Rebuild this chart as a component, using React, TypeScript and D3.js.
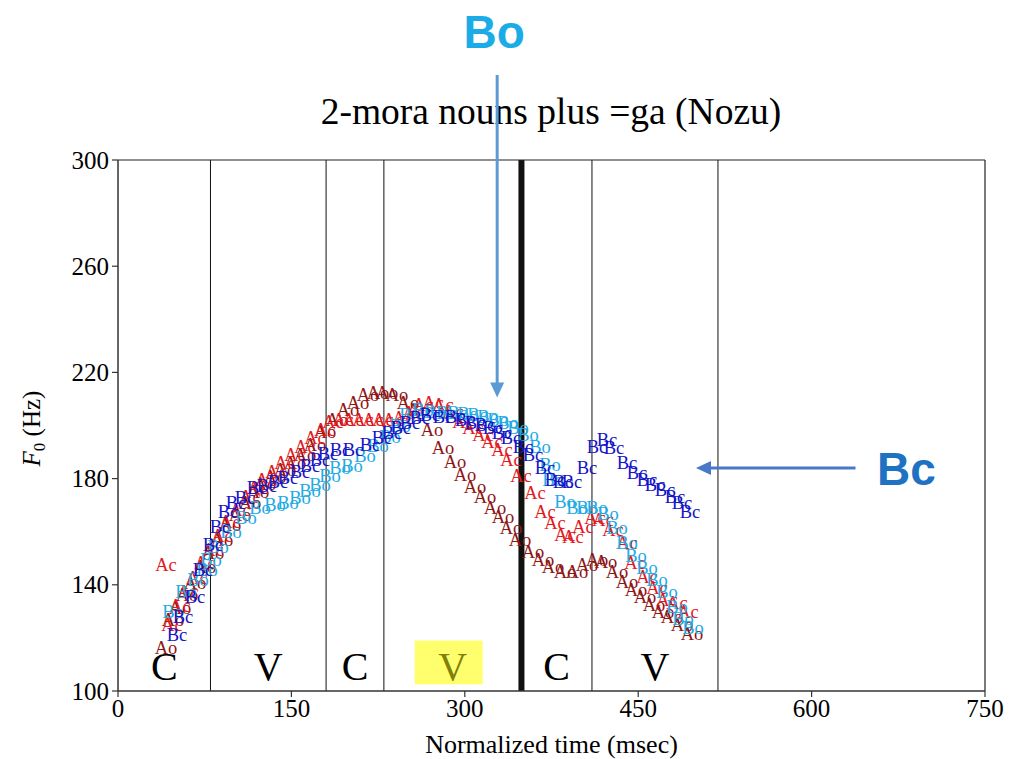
import React from "react";
import * as d3 from "d3";

// ---- data (time in msec, F0 in Hz) ----
const AO: [number, number][] = [
  [41.5, 116.1], [47.6, 126.7], [53.6, 131.3], [59.7, 136.2], [66.6, 140.7], [75.3, 146.7],
  [82.2, 152.0], [90.0, 156.9], [96.9, 162.5], [105.5, 166.3], [114.2, 170.8], [121.1, 175.0],
  [127.2, 178.0], [135.8, 180.6], [144.5, 183.2], [153.1, 185.9], [161.8, 188.9], [170.4, 192.7],
  [179.1, 197.6], [189.4, 202.1], [199.0, 205.8], [207.6, 208.5], [216.3, 211.5], [224.9, 212.2],
  [232.7, 212.2], [241.3, 211.5], [250.9, 208.5], [259.5, 205.8], [271.6, 198.3], [281.1, 191.5],
  [291.5, 186.3], [300.2, 181.4], [308.8, 176.8], [317.5, 173.1], [326.1, 168.9], [333.0, 165.5],
  [340.0, 161.4], [347.8, 156.9], [359.0, 152.4], [367.6, 149.3], [376.3, 146.7], [386.7, 144.8],
  [397.1, 144.8], [405.7, 147.5], [414.4, 149.3], [422.1, 148.6], [431.7, 144.8], [440.3, 141.1],
  [448.1, 138.0], [455.9, 135.4], [463.7, 132.4], [471.5, 129.8], [479.2, 127.9], [487.9, 124.9],
  [496.5, 121.5],
];

const AC: [number, number][] = [
  [41.5, 147.5], [46.7, 124.9], [53.6, 132.0], [60.6, 137.3], [68.3, 142.6], [75.3, 148.2],
  [82.2, 153.1], [90.0, 158.4], [96.9, 163.7], [105.5, 168.2], [114.2, 173.1], [121.1, 176.5],
  [128.0, 179.5], [136.7, 182.5], [144.5, 185.9], [153.1, 188.9], [161.8, 191.9], [170.4, 195.3],
  [179.1, 198.3], [186.0, 201.3], [194.6, 202.1], [203.3, 202.1], [211.9, 202.1], [220.6, 202.1],
  [229.2, 202.1], [237.9, 202.1], [246.5, 202.8], [255.2, 204.7], [263.8, 207.7], [272.5, 208.5],
  [281.1, 207.7], [289.8, 205.1], [298.4, 201.3], [307.1, 199.1], [315.7, 196.4], [323.5, 193.8],
  [332.2, 190.8], [340.0, 187.0], [348.6, 181.0], [360.7, 174.6], [369.4, 167.4], [378.0, 163.3],
  [386.7, 158.8], [393.6, 158.0], [402.2, 161.8], [412.6, 165.2], [419.6, 164.4], [428.2, 160.6],
  [440.3, 155.7], [447.2, 148.2], [457.6, 142.9], [466.3, 138.8], [474.9, 134.3], [483.6, 133.1],
  [493.1, 129.8],
];

const BO: [number, number][] = [
  [47.6, 129.8], [58.8, 137.3], [69.2, 141.8], [77.0, 145.6], [80.4, 149.3], [86.5, 154.2],
  [97.8, 159.9], [110.7, 165.2], [122.8, 168.9], [135.8, 170.1], [147.1, 170.8], [157.4, 172.7],
  [166.1, 175.3], [174.7, 177.6], [183.4, 181.0], [192.0, 184.0], [202.4, 184.7], [213.7, 188.5],
  [224.9, 192.3], [235.3, 195.7], [243.9, 199.8], [252.6, 204.0], [263.8, 205.8], [274.2, 205.1],
  [284.6, 204.7], [294.1, 204.7], [302.8, 204.3], [311.4, 204.0], [320.1, 203.2], [328.7, 202.1],
  [337.4, 200.9], [346.0, 199.1], [354.7, 196.4], [365.0, 191.9], [373.7, 185.1], [376.3, 179.5],
  [386.7, 171.2], [397.1, 168.9], [405.7, 168.9], [414.4, 168.9], [423.9, 166.7], [431.7, 161.4],
  [440.3, 155.7], [448.1, 150.8], [457.6, 146.3], [466.3, 141.8], [474.9, 137.3], [483.6, 131.6],
  [488.8, 127.1], [497.4, 123.7],
];

const BC: [number, number][] = [
  [51.0, 121.1], [56.2, 127.9], [66.6, 135.4], [73.5, 145.6], [82.2, 155.0], [88.2, 161.8],
  [95.2, 167.4], [102.1, 170.8], [109.9, 172.7], [120.2, 176.5], [128.9, 177.2], [138.4, 178.7],
  [147.1, 180.2], [157.4, 182.5], [166.1, 184.7], [174.7, 187.0], [181.7, 189.3], [192.0, 190.8],
  [203.3, 190.8], [218.0, 192.7], [228.4, 195.3], [237.0, 197.2], [244.8, 199.1], [252.6, 200.9],
  [261.2, 202.8], [269.9, 204.0], [281.1, 203.2], [291.5, 203.2], [300.2, 202.1], [308.8, 200.9],
  [317.5, 200.2], [324.4, 199.1], [332.2, 197.2], [340.0, 195.3], [350.3, 191.9], [359.0, 188.9],
  [369.4, 184.0], [378.0, 179.5], [385.0, 178.7], [392.7, 178.7], [405.7, 184.0], [414.4, 191.9],
  [423.0, 194.5], [429.1, 191.5], [440.3, 185.9], [449.0, 182.1], [457.6, 179.5], [464.5, 177.6],
  [473.2, 175.7], [481.8, 173.1], [487.9, 170.8], [494.8, 167.4],
];

const SERIES = [
  { name: "Ao", color: "#8E1616", data: AO },
  { name: "Ac", color: "#E3191C", data: AC },
  { name: "Bo", color: "#22AAE4", data: BO },
  { name: "Bc", color: "#1414C8", data: BC },
];

const X_TICKS = [0, 150, 300, 450, 600, 750];
const Y_TICKS = [100, 140, 180, 220, 260, 300];
const BOUNDARIES = [0, 80, 180, 230, 349, 410, 519];
const THICK_BOUNDARY = 349;
const SEGMENTS = ["C", "V", "C", "V", "C", "V"];
const HIGHLIGHT_SEGMENT = 3;
const TITLE = "2-mora nouns plus =ga (Nozu)";

const W = 1010;
const H = 759;
const M = { left: 118, right: 25, top: 160, bottom: 68 };

export default function App() {
  const x = d3.scaleLinear().domain([0, 750]).range([M.left, W - M.right]);
  const y = d3.scaleLinear().domain([100, 300]).range([H - M.bottom, M.top]);
  const serif = "'Liberation Serif', 'Times New Roman', serif";
  const sans = "'Liberation Sans', Arial, sans-serif";
  const x0 = x(0), x1 = x(750), y0 = y(100), y1 = y(300);

  const hl0 = BOUNDARIES[HIGHLIGHT_SEGMENT];
  const hl1 = BOUNDARIES[HIGHLIGHT_SEGMENT + 1];
  const hlMid = (hl0 + hl1) / 2;

  // annotation arrows (data coordinates)
  const boX = 328, boYTop = 332, boYTip = 210.5;
  const bcY = 184, bcXStart = 638, bcXTip = 500;

  return (
    <svg width={W} height={H} style={{ position: "absolute", left: 0, top: 0, background: "#fff" }}>
      {/* highlight */}
      <rect x={x(hlMid) - 38} y={y(119)} width={68} height={y(102.5) - y(119)} fill="#FFFF6E" />

      {/* boundary lines */}
      {BOUNDARIES.slice(1).map((b) => (
        <line key={b} x1={x(b)} x2={x(b)} y1={y1} y2={y0}
          stroke="#111" strokeWidth={b === THICK_BOUNDARY ? 6 : 1} />
      ))}

      {/* frame */}
      <line x1={x0} x2={x1} y1={y1} y2={y1} stroke="#222" strokeWidth={1.2} />
      <line x1={x1} x2={x1} y1={y1} y2={y0} stroke="#222" strokeWidth={1.2} />
      <line x1={x0} x2={x0} y1={y1} y2={y0} stroke="#333" strokeWidth={1.5} />
      <line x1={x0} x2={x1} y1={y0} y2={y0} stroke="#333" strokeWidth={1.5} />

      {/* y ticks */}
      {Y_TICKS.map((t) => (
        <g key={t}>
          <line x1={x0 - 6} x2={x0} y1={y(t)} y2={y(t)} stroke="#333" strokeWidth={1.2} />
          <text x={x0 - 9} y={y(t)} textAnchor="end" dominantBaseline="central"
            fontFamily={serif} fontSize={25}>{t}</text>
        </g>
      ))}
      {/* x ticks */}
      {X_TICKS.map((t) => (
        <g key={t}>
          <line x1={x(t)} x2={x(t)} y1={y0} y2={y0 + 6} stroke="#333" strokeWidth={1.2} />
          <text x={x(t)} y={y0 + 26} textAnchor="middle"
            fontFamily={serif} fontSize={25}>{t}</text>
        </g>
      ))}

      {/* axis titles */}
      <text x={(x0 + x1) / 2} y={H - 6} textAnchor="middle" fontFamily={serif} fontSize={26}>
        Normalized time (msec)
      </text>
      <text transform={`translate(40, ${(y0 + y1) / 2 + 3}) rotate(-90)`} textAnchor="middle"
        fontFamily={serif} fontSize={25}>
        <tspan fontStyle="italic">F</tspan>
        <tspan fontSize={17} dy={5}>0</tspan>
        <tspan dy={-5}> (Hz)</tspan>
      </text>

      {/* title */}
      <text x={551} y={124} textAnchor="middle" fontFamily={serif} fontSize={37.5}>{TITLE}</text>

      {/* segment labels */}
      {SEGMENTS.map((s, i) => {
        const mid = (BOUNDARIES[i] + BOUNDARIES[i + 1]) / 2;
        return (
          <text key={i} x={x(mid)} y={y(104)} textAnchor="middle" fontFamily={serif} fontSize={40}
            fill={i === HIGHLIGHT_SEGMENT ? "#80800A" : "#000"}>{s}</text>
        );
      })}

      {/* data labels */}
      {SERIES.map((s) => (
        <g key={s.name} fill={s.color} fontFamily={serif} fontSize={18.5}>
          {s.data.map(([t, f], i) => (
            <text key={i} x={x(t)} y={y(f)} textAnchor="middle" dominantBaseline="central">{s.name}</text>
          ))}
        </g>
      ))}

      {/* annotations */}
      <text x={x(325.5)} y={48} textAnchor="middle" fontFamily={sans} fontWeight="bold" fontSize={46}
        fill="#1BACE8">Bo</text>
      <line x1={x(boX)} x2={x(boX)} y1={y(boYTop)} y2={y(boYTip) - 14} stroke="#5B9BD5" strokeWidth={3} />
      <path d={`M${x(boX) - 7},${y(boYTip) - 15} L${x(boX) + 7},${y(boYTip) - 15} L${x(boX)},${y(boYTip)} Z`}
        fill="#5B9BD5" />

      <text x={x(682)} y={y(bcY) + 17} textAnchor="middle" fontFamily={sans} fontWeight="bold" fontSize={46}
        fill="#1F72C2">Bc</text>
      <line x1={x(bcXStart)} x2={x(bcXTip) + 14} y1={y(bcY)} y2={y(bcY)} stroke="#4A78C8" strokeWidth={3} />
      <path d={`M${x(bcXTip) + 15},${y(bcY) - 7} L${x(bcXTip) + 15},${y(bcY) + 7} L${x(bcXTip)},${y(bcY)} Z`}
        fill="#4A78C8" />
    </svg>
  );
}
